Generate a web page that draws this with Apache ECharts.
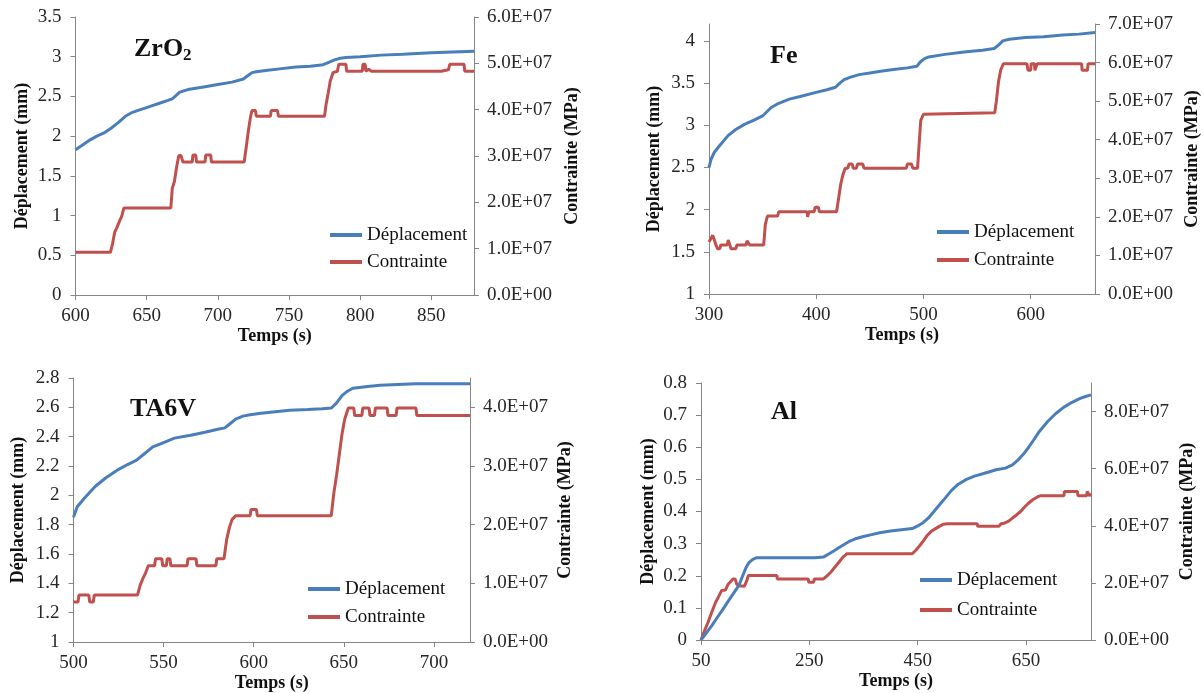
<!DOCTYPE html>
<html>
<head>
<meta charset="utf-8">
<script src="https://cdn.jsdelivr.net/npm/echarts@6/dist/echarts.min.js"></script>
<style>
html,body{margin:0;padding:0;background:#fff;}
#chart{width:1204px;height:693px;}
</style>
</head>
<body>
<div id="chart"></div>
<script>
// ---------------- DATA ----------------
const legendNames = ['Déplacement', 'Contrainte'];
const xAxisTitle = 'Temps (s)';
const leftAxisTitle = 'Déplacement (mm)';
const rightAxisTitle = 'Contrainte (MPa)';

// ZrO2
const zrDispT = [600,605,610,615,620,625,630,635,640,645,650,655,660,665,668,670,673,676,680,690,700,710,718,721,724,727,735,745,755,765,774,778,782,786,790,800,815,830,850,865,880];
const zrDispV = [1.83,1.89,1.95,2.0,2.04,2.1,2.17,2.25,2.3,2.33,2.36,2.39,2.42,2.45,2.47,2.5,2.55,2.57,2.59,2.62,2.65,2.68,2.72,2.76,2.80,2.81,2.83,2.85,2.87,2.88,2.9,2.93,2.96,2.98,2.99,3.0,3.02,3.03,3.05,3.06,3.07];
const zrStressT = [600,624.5,626,627.5,629,631,632.5,634,667,668,669.5,671,672.5,674,675.5,682,682.5,684.5,685,691,691.5,695,695.5,718.5,720,721.5,723,724,726.5,727,737,737.5,742,742.5,775,776,777.5,779,781,784,785,790,790.5,801.5,802,803.5,804,806,808,823,824,828,857,858,862,863,873,873.5,880];
const zrStressV = [0.92e7,0.92e7,1.1e7,1.35e7,1.45e7,1.6e7,1.7e7,1.88e7,1.88e7,2.3e7,2.45e7,2.75e7,3.0e7,3.02e7,2.87e7,2.87e7,3.02e7,3.02e7,2.87e7,2.87e7,3.02e7,3.02e7,2.87e7,2.87e7,3.2e7,3.55e7,3.85e7,3.98e7,3.98e7,3.86e7,3.86e7,3.98e7,3.98e7,3.86e7,3.86e7,4.1e7,4.35e7,4.62e7,4.8e7,4.83e7,4.98e7,4.98e7,4.83e7,4.83e7,4.98e7,4.98e7,4.83e7,4.87e7,4.83e7,4.83e7,4.86e7,4.83e7,4.83e7,4.86e7,4.86e7,4.98e7,4.98e7,4.83e7,4.83e7];
const zrXTicks = [600,650,700,750,800,850];
const zrLeftTicks = [0,0.5,1,1.5,2,2.5,3,3.5];
const zrRightTicks = [0,1e7,2e7,3e7,4e7,5e7,6e7];

// Fe
const feDispT = [300,302,305,310,318,325,333,342,350,354,358,365,375,385,400,410,418,422,426,432,440,450,460,472,485,494,497,501,505,520,540,555,566,570,574,580,595,612,630,645,660];
const feDispV = [2.5,2.6,2.68,2.76,2.88,2.95,3.01,3.06,3.11,3.16,3.21,3.26,3.31,3.34,3.39,3.42,3.45,3.5,3.54,3.57,3.6,3.62,3.64,3.66,3.68,3.70,3.75,3.79,3.81,3.84,3.87,3.89,3.91,3.95,4.0,4.02,4.04,4.05,4.07,4.08,4.10];
const feStressT = [300,302,303.5,305,306.5,308,310,311,317,318,319.5,320.5,325,326,334.5,335.5,337,338,351,352.5,354.5,364,365,391.5,392,393,398,399,402,403,419,421,423,425,427,429.5,430.5,433.5,434.5,437.5,438.5,443.5,444.5,484,485,489,490,494.5,496,497.5,500,501.5,566.5,568,570,572,574.5,596.5,597.5,600,600.5,603.5,604,605.5,606,647.5,648,653,653.5,660];
const feStressV = [1.35e7,1.45e7,1.52e7,1.4e7,1.27e7,1.17e7,1.17e7,1.27e7,1.27e7,1.4e7,1.4e7,1.17e7,1.17e7,1.27e7,1.27e7,1.38e7,1.38e7,1.27e7,1.27e7,1.8e7,2.02e7,2.02e7,2.13e7,2.13e7,2.0e7,2.13e7,2.13e7,2.25e7,2.25e7,2.13e7,2.13e7,2.5e7,2.87e7,3.1e7,3.26e7,3.26e7,3.37e7,3.37e7,3.26e7,3.26e7,3.37e7,3.37e7,3.26e7,3.26e7,3.37e7,3.37e7,3.26e7,3.26e7,3.9e7,4.5e7,4.66e7,4.70e7,4.70e7,5.0e7,5.5e7,5.8e7,5.97e7,5.97e7,5.8e7,5.8e7,5.97e7,5.97e7,5.8e7,5.8e7,5.97e7,5.97e7,5.8e7,5.8e7,5.97e7,5.97e7];
const feXTicks = [300,400,500,600];
const feLeftTicks = [1,1.5,2,2.5,3,3.5,4];
const feRightTicks = [0,1e7,2e7,3e7,4e7,5e7,6e7,7e7];

// TA6V
const taDispT = [500,502,506,512,518,524,530,535,539,544,550,556,565,573,580,584,587,590,594,598,604,612,620,630,638,643,646,649,652,655,662,670,680,690,705,720];
const taDispV = [1.85,1.92,1.98,2.06,2.12,2.17,2.21,2.24,2.28,2.33,2.36,2.39,2.41,2.43,2.45,2.46,2.49,2.52,2.54,2.55,2.56,2.57,2.58,2.585,2.59,2.595,2.63,2.68,2.71,2.73,2.74,2.75,2.755,2.76,2.76,2.76];
const taStressT = [500,502.5,503,508.5,509,511,511.5,535.5,537,538.5,540,541.5,545,545.5,549,549.5,551.5,552,553.5,554,563,563.5,568,568.5,579,579.5,583.5,585,586.5,588,590,598,598.5,601.5,602,643,644.5,646,647.5,649,650.5,652.5,655.5,656,660,660.5,664,664.5,667,667.5,674,674.5,679,679.5,690,690.5,720];
const taStressV = [0.68e7,0.68e7,0.8e7,0.8e7,0.68e7,0.68e7,0.8e7,0.8e7,0.97e7,1.08e7,1.18e7,1.30e7,1.30e7,1.42e7,1.42e7,1.30e7,1.30e7,1.42e7,1.42e7,1.30e7,1.30e7,1.42e7,1.42e7,1.30e7,1.30e7,1.42e7,1.42e7,1.75e7,1.95e7,2.09e7,2.15e7,2.15e7,2.26e7,2.26e7,2.15e7,2.15e7,2.55e7,2.85e7,3.2e7,3.55e7,3.8e7,3.99e7,3.99e7,3.86e7,3.86e7,3.99e7,3.99e7,3.86e7,3.86e7,3.99e7,3.99e7,3.86e7,3.86e7,3.99e7,3.99e7,3.86e7,3.86e7];
const taXTicks = [500,550,600,650,700];
const taLeftTicks = [1,1.2,1.4,1.6,1.8,2,2.2,2.4,2.6,2.8];
const taRightTicks = [0,1e7,2e7,3e7,4e7];

// Al
const alDispT = [50,60,70,80,91,100,110,120,127,133,138,145,152,200,260,276,285,295,305,315,325,335,350,365,380,400,420,440,450,460,470,480,490,500,512,525,540,555,575,595,612,625,635,645,655,665,675,690,705,720,735,750,760,770];
const alDispV = [0,0.022,0.045,0.07,0.097,0.12,0.145,0.17,0.2,0.225,0.24,0.25,0.256,0.256,0.256,0.258,0.267,0.277,0.288,0.298,0.308,0.315,0.322,0.328,0.334,0.339,0.343,0.347,0.355,0.365,0.38,0.4,0.42,0.44,0.465,0.485,0.5,0.51,0.52,0.53,0.535,0.545,0.56,0.578,0.6,0.625,0.65,0.68,0.705,0.725,0.74,0.752,0.758,0.763];
const alStressT = [50,56,63,70,77,82,88,95,100,105,109,113,116,120,130,134,137.5,190,191,248,249,258,259,276,283,290,297,305,312,319,440,447,454,461,468,476,483,490,497,505,560,561,600,604,611,618,625,632,640,647,654,663,671,676,720,721,745,746,762,763,766,767,770];
const alStressV = [0,0.3e7,0.62e7,0.98e7,1.32e7,1.5e7,1.73e7,1.75e7,1.95e7,2.05e7,2.14e7,2.14e7,1.95e7,1.9e7,1.88e7,2.05e7,2.26e7,2.26e7,2.14e7,2.14e7,2.02e7,2.02e7,2.14e7,2.14e7,2.25e7,2.38e7,2.55e7,2.73e7,2.9e7,3.02e7,3.02e7,3.15e7,3.31e7,3.48e7,3.67e7,3.82e7,3.9e7,3.98e7,4.05e7,4.07e7,4.07e7,3.98e7,3.98e7,4.07e7,4.1e7,4.16e7,4.27e7,4.37e7,4.5e7,4.65e7,4.78e7,4.92e7,5.01e7,5.05e7,5.05e7,5.2e7,5.2e7,5.05e7,5.05e7,5.2e7,5.2e7,5.05e7,5.12e7];
const alXTicks = [50,250,450,650];
const alLeftTicks = [0,0.1,0.2,0.3,0.4,0.5,0.6,0.7,0.8];
const alRightTicks = [0,2e7,4e7,6e7,8e7];

// ---------------- LAYOUT / STYLE ----------------
const FONT = '"Liberation Serif", "Times New Roman", serif';
const BLUE = '#4a7ebb';
const RED = '#c0504d';
const AXIS = '#868686';
const LABEL = '#262626';

const zip = (a, b) => a.map((v, i) => [v, b[i]]);
const sciFmt = v => v === 0 ? '0.0E+00' : (v / 1e7).toFixed(1) + 'E+07';

const panels = [
  { title: '{m|ZrO}{s|2}', tl: 134, tt: 34,
    grid: {left: 75.5, top: 17, width: 398.5, height: 278},
    x: [600, 880, zrXTicks], yl: [0, 3.5, zrLeftTicks], yr: [0, 6e7, zrRightTicks],
    disp: zip(zrDispT, zrDispV), stress: zip(zrStressT, zrStressV),
    leg: {left: 330, top: 225, gap: 7}, lgap: 44, rgap: 89 },
  { title: '{m|Fe}', tl: 770, tt: 41,
    grid: {left: 709, top: 24, width: 386, height: 270},
    x: [300, 660, feXTicks], yl: [1, 4.2, feLeftTicks], yr: [0, 7e7, feRightTicks],
    disp: zip(feDispT, feDispV), stress: zip(feStressT, feStressV),
    leg: {left: 937, top: 222, gap: 8}, lgap: 46, rgap: 88 },
  { title: '{m|TA6V}', tl: 130, tt: 394,
    grid: {left: 73.5, top: 378, width: 396.5, height: 264},
    x: [500, 720, taXTicks], yl: [1, 2.8, taLeftTicks], yr: [0, 4.5e7, taRightTicks],
    disp: zip(taDispT, taDispV), stress: zip(taStressT, taStressV),
    leg: {left: 308, top: 579, gap: 8}, lgap: 46, rgap: 86 },
  { title: '{m|Al}', tl: 771, tt: 397,
    grid: {left: 701, top: 383, width: 390, height: 257},
    x: [50, 770, alXTicks], yl: [0, 0.8, alLeftTicks], yr: [0, 9e7, alRightTicks],
    disp: zip(alDispT, alDispV), stress: zip(alStressT, alStressV),
    leg: {left: 920, top: 570, gap: 10}, lgap: 44, rgap: 87 }
];

const nameStyle = {fontFamily: FONT, fontWeight: 'bold', fontSize: 18, color: '#111'};
const labelStyle = {fontFamily: FONT, fontSize: 19, color: LABEL};
const axisLineStyle = {show: true, onZero: false, lineStyle: {color: AXIS, width: 1}};

const option = {
  backgroundColor: '#fff',
  animation: false,
  title: [], grid: [], xAxis: [], yAxis: [], series: [], legend: []
};

panels.forEach((p, i) => {
  option.title.push({
    text: p.title, left: p.tl, top: p.tt, padding: 0,
    textStyle: {
      fontFamily: FONT, fontWeight: 'bold', fontSize: 26, color: '#111',
      rich: {
        m: {fontFamily: FONT, fontWeight: 'bold', fontSize: 26, lineHeight: 30, color: '#111'},
        s: {fontFamily: FONT, fontWeight: 'bold', fontSize: 17, lineHeight: 14, verticalAlign: 'bottom', color: '#111'}
      }
    }
  });
  option.grid.push(Object.assign({containLabel: false}, p.grid));
  option.xAxis.push({
    type: 'value', gridIndex: i, min: p.x[0], max: p.x[1],
    name: xAxisTitle, nameLocation: 'middle', nameGap: 29, nameTextStyle: nameStyle,
    axisLine: axisLineStyle,
    axisTick: {show: true, inside: false, length: 5, lineStyle: {color: AXIS}, customValues: p.x[2]},
    axisLabel: Object.assign({margin: 12, customValues: p.x[2]}, labelStyle),
    splitLine: {show: false}
  });
  option.yAxis.push({
    type: 'value', gridIndex: i, position: 'left', min: p.yl[0], max: p.yl[1],
    name: leftAxisTitle, nameLocation: 'middle', nameGap: p.lgap, nameTextStyle: nameStyle,
    axisLine: axisLineStyle,
    axisTick: {show: true, inside: false, length: 5, lineStyle: {color: AXIS}, customValues: p.yl[2]},
    axisLabel: Object.assign({margin: 14, customValues: p.yl[2]}, labelStyle),
    splitLine: {show: false}
  });
  option.yAxis.push({
    type: 'value', gridIndex: i, position: 'right', min: p.yr[0], max: p.yr[1],
    name: rightAxisTitle, nameLocation: 'middle', nameGap: p.rgap, nameTextStyle: nameStyle,
    axisLine: axisLineStyle,
    axisTick: {show: true, inside: false, length: 5, lineStyle: {color: AXIS}, customValues: p.yr[2]},
    axisLabel: Object.assign({margin: 13, customValues: p.yr[2], formatter: sciFmt}, labelStyle),
    splitLine: {show: false}
  });
  option.series.push({
    name: legendNames[0], type: 'line', xAxisIndex: i, yAxisIndex: 2 * i,
    data: p.disp, showSymbol: false, symbol: 'none', z: 3,
    lineStyle: {color: BLUE, width: 3}, itemStyle: {color: BLUE}
  });
  option.series.push({
    name: legendNames[1], type: 'line', xAxisIndex: i, yAxisIndex: 2 * i + 1,
    data: p.stress, showSymbol: false, symbol: 'none', z: 2,
    lineStyle: {color: RED, width: 3}, itemStyle: {color: RED}
  });
  option.legend.push({
    data: legendNames, orient: 'vertical', left: p.leg.left, top: p.leg.top,
    padding: 0, itemGap: p.leg.gap, itemWidth: 32, itemHeight: 4, icon: 'rect',
    textStyle: {fontFamily: FONT, fontSize: 19, lineHeight: 20, color: '#111'}
  });
});

const chart = echarts.init(document.getElementById('chart'), null, {renderer: 'canvas'});
chart.setOption(option);
</script>
</body>
</html>
